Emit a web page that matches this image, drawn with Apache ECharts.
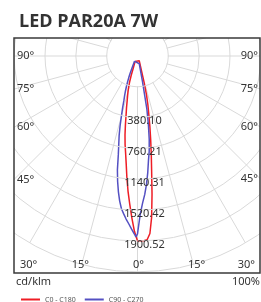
<!DOCTYPE html>
<html>
<head>
<meta charset="utf-8">
<script src="https://cdn.jsdelivr.net/npm/echarts@6/dist/echarts.min.js"></script>
<style>
  html, body { margin: 0; padding: 0; background: #fff; }
  #chart { width: 261px; height: 302px; }
</style>
</head>
<body>
<div id="chart"></div>
<script>
// photometric polar diagram, rings every 1/5 of the peak (cd/klm)
const peak = 1900.52
const step = peak / 5
const angleLabels = [90, 75, 60, 45, 30, 15, 0]

// C0 - C180 plane (C0 right, C180 left), gamma in degrees
const redC0Angles = [0, 1, 2, 3, 4, 5, 6, 7, 8, 9, 10, 11, 12, 13, 14, 20]
const redC0 = [1900, 1900, 1900, 1888, 1814, 1617, 1334, 1050, 840, 656, 495, 347, 236, 113, -35, -318]
const redC180Angles = [1, 2, 3, 4, 5, 6, 7, 8, 9, 10, 11, 12, 13, 14, 15, 16, 17, 18, 19, 24]
const redC180 = [1782, 1616, 1448, 1292, 1123, 954, 824, 720, 605, 476, 356, 271, 186, 125, 69, 12, -52, -130, -205, -306]

// C90 - C270 plane (C90 right, C270 left)
const blueC90Angles = [0, 1, 2, 3, 4, 5, 6, 7, 8, 9, 10, 11, 13, 16]
const blueC90 = [1814, 1568, 1432, 1329, 1207, 1067, 914, 804, 659, 479, 286, -60, -282, -306]
const blueC270Angles = [0.5, 1, 2, 3, 4, 5, 6, 7, 8, 9, 10, 11, 12, 13, 14, 15, 16, 17, 18, 19, 20, 21, 22, 23, 24, 30]
const blueC270 = [1851, 1815, 1753, 1691, 1635, 1574, 1514, 1422, 1311, 1186, 1046, 859, 730, 626, 508, 384, 286, 193, 134, 76, 17, -40, -93, -145, -195, -306]

const red = '#ee1d25'
const blue = '#5450c2'
const gridColor = '#d9d9d9'
const textColor = '#333'
const font = '"Noto Sans", sans-serif'

// layout
const cx = 137.5
const cy = 56
const ring = 30.83
const box = { left: 14, top: 38, right: 260, bottom: 273 }

// left half goes to 360 - gamma so the angle axis can start straight down
function lobe(leftAngles, leftVals, rightAngles, rightVals) {
  const pts = []
  for (let i = leftAngles.length - 1; i >= 0; i--) pts.push([leftVals[i], 360 - leftAngles[i]])
  rightAngles.forEach((a, i) => pts.push([rightVals[i], a]))
  pts.push(pts[0]) // close the tip
  return pts
}

function txt(text, x, y, align, vAlign) {
  return {
    type: 'text',
    x: x,
    y: y,
    z: 95,
    style: {
      text: text,
      fill: textColor,
      font: '11px ' + font,
      align: align,
      textAlign: align,
      verticalAlign: vAlign || 'middle',
      textVerticalAlign: vAlign || 'middle'
    }
  }
}

// angle labels where the rays meet the frame
function angleTexts() {
  const out = []
  angleLabels.forEach(a => {
    const sides = a === 0 ? [1] : [-1, 1]
    sides.forEach(s => {
      const rad = a * Math.PI / 180
      const dx = Math.sin(rad)
      const dy = Math.cos(rad)
      const hw = s < 0 ? cx - box.left : box.right - cx
      const bh = box.bottom - cy
      const tSide = dx > 1e-6 ? hw / dx : Infinity
      const tBot = dy > 1e-6 ? bh / dy : Infinity
      const label = a + '°'
      if (tSide < tBot && cy + tSide * dy < box.bottom - 12) {
        out.push(txt(label, s < 0 ? box.left + 3 : box.right - 2, cy + tSide * dy, s < 0 ? 'left' : 'right'))
      } else if (tSide < tBot) {
        out.push(txt(label, s < 0 ? box.left + 6 : box.right - 5, box.bottom - 8, s < 0 ? 'left' : 'right'))
      } else {
        out.push(txt(label, cx + s * tBot * dx + 1, box.bottom - 8, 'center'))
      }
    })
  })
  return out
}

const W = 261
const H = 302
const masks = [
  { x: 0, y: 0, width: W, height: box.top },
  { x: 0, y: 0, width: box.left, height: H },
  { x: box.right, y: 0, width: W - box.right, height: H },
  { x: 0, y: box.bottom, width: W, height: H - box.bottom }
].map(r => ({ type: 'rect', z: 90, shape: r, style: { fill: '#fff' } }))

const chart = echarts.init(document.getElementById('chart'))

function lobeSeries(name, color, z, data) {
  return {
    name: name,
    type: 'line',
    coordinateSystem: 'polar',
    encode: { radius: 0, angle: 1 },
    showSymbol: false,
    z: z,
    lineStyle: { color: color, width: 1.5 },
    itemStyle: { color: color },
    data: data
  }
}

chart.setOption({
  animation: false,
  title: {
    text: 'LED PAR20A 7W',
    left: 14,
    top: 8,
    z: 100,
    textStyle: { fontFamily: '"Open Sans", sans-serif', fontWeight: 'bold', fontSize: 18, color: '#333' }
  },
  legend: {
    left: 16,
    top: 291,
    z: 100,
    icon: 'rect',
    itemWidth: 19,
    itemHeight: 2,
    itemGap: 9,
    textStyle: { fontSize: 7, color: '#555', fontFamily: font },
    data: ['C0 - C180', 'C90 - C270']
  },
  polar: {
    center: [cx, cy],
    radius: ring * 7
  },
  angleAxis: {
    type: 'value',
    min: 0,
    max: 360,
    interval: 15,
    startAngle: 270, // 0 straight down
    clockwise: false,
    axisLine: { show: false },
    axisTick: { show: false },
    axisLabel: { show: false },
    splitLine: { lineStyle: { color: gridColor, width: 1 } }
  },
  radiusAxis: {
    type: 'value',
    z: 6, // ring values sit on top of the curves
    min: -step,
    max: step * 6,
    interval: step,
    axisLine: { show: false },
    axisTick: { show: false },
    splitLine: { lineStyle: { color: gridColor, width: 1 } },
    axisLabel: {
      color: textColor,
      fontSize: 11,
      fontFamily: font,
      align: 'center',
      verticalAlign: 'top',
      lineHeight: 7,
      margin: 7,
      formatter: v => (v > 1 && v < peak + 1) ? v.toFixed(2) : ''
    }
  },
  graphic: [
    { type: 'circle', z: 1, shape: { cx: cx, cy: cy, r: ring - 0.6 }, style: { fill: '#fff' } },
    ...masks,
    {
      type: 'rect', z: 91,
      shape: { x: box.left, y: box.top, width: box.right - box.left, height: box.bottom - box.top },
      style: { fill: 'transparent', stroke: '#3a3a3a', lineWidth: 1.5 }
    },
    ...angleTexts(),
    txt('cd/klm', 16, 282, 'left'),
    txt('100%', 260, 282, 'right')
  ],
  series: [
    lobeSeries('C0 - C180', red, 3, lobe(redC180Angles, redC180, redC0Angles, redC0)),
    lobeSeries('C90 - C270', blue, 4, lobe(blueC270Angles, blueC270, blueC90Angles, blueC90))
  ]
})
</script>
</body>
</html>
